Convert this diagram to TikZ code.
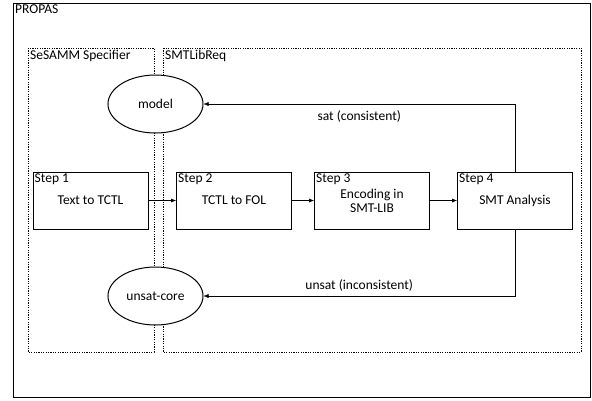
\documentclass[tikz,border=0pt]{standalone}
\usepackage{fontspec}
\setmainfont{Carlito}
\usetikzlibrary{shapes.geometric,arrows.meta}

\begin{document}
\begin{tikzpicture}[x=1pt,y=-1pt,
    font=\fontsize{13.5}{14}\selectfont,
    >={Latex[length=5pt,width=4pt]},
    stepbox/.style={draw,line width=1pt,minimum width=115pt,minimum height=57pt,align=center,inner sep=1pt},
    steplabel/.style={anchor=north west,inner sep=2pt},
    result/.style={draw,fill=white,ellipse,line width=1pt,minimum width=95pt,minimum height=58pt,inner sep=0pt},
    group/.style={draw,line width=0.8pt,dash pattern=on 1.2pt off 1.2pt}]
        \useasboundingbox (0,0) rectangle (592,400);
        % frames
        \draw[line width=1pt] (13,3) rectangle (590,397);
        \node[steplabel] (propas) at (13,3) {PROPAS};
        \draw[group] (28,48) rectangle (154,352);
        \node[steplabel] (sesamm) at (28,48) {SeSAMM Specifier};
        \draw[group] (163,48) rectangle (581,352);
        \node[steplabel] (smtlib) at (163,48) {SMTLibReq};
        % results
        \node[result] (model) at (155.5,104) {model};
        \node[result] (core) at (155.5,296) {unsat-core};
        % steps
        \node[stepbox] (s1) at (90.5,200.5) {Text to TCTL};
        \node[stepbox] (s2) at (234,200.5) {TCTL to FOL};
        \node[stepbox] (s3) at (372,200.5) {Encoding in\\SMT-LIB};
        \node[stepbox] (s4) at (515,200.5) {SMT Analysis};
        \node[steplabel] at (s1.north west) {Step 1};
        \node[steplabel] at (s2.north west) {Step 2};
        \node[steplabel] at (s3.north west) {Step 3};
        \node[steplabel] at (s4.north west) {Step 4};
        \draw[->] (s1) -- (s2);
        \draw[->] (s2) -- (s3);
        \draw[->] (s3) -- (s4);
        \draw[->] (s4.north) |- (model.east) node[pos=0.75,below=3pt] {sat (consistent)};
        \draw[->] (s4.south) |- (core.east) node[pos=0.75,above=1pt] {unsat (inconsistent)};
    \end{tikzpicture}
\end{document}
